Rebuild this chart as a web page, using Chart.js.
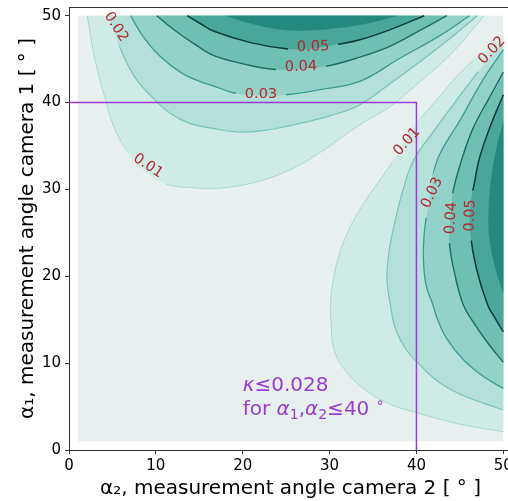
<!DOCTYPE html>
<html>
<head>
<meta charset="utf-8">
<script src="https://cdn.jsdelivr.net/npm/chart.js@4.4.1/dist/chart.umd.min.js"></script>
<style>
  html, body { margin: 0; padding: 0; overflow: hidden; background: #fff; }
  canvas { display: block; }
</style>
</head>
<body>
<canvas id="canvas-contour" width="520" height="501" style="width:520px;height:501px"></canvas>
<script>
// kappa contour levels (filled bands start at each level)
const levels = [0.01, 0.02, 0.03, 0.04, 0.05, 0.06];

// contours of the top lobe, [alpha2, alpha1] in degrees.
// kappa is symmetric in alpha1/alpha2, so the right lobe is the same curve mirrored.
const top001 = [[2.1,50],[3.0,44.9],[4.3,40.0],[5.3,36.9],[7.0,34.0],[9.3,31.7],[11.6,30.5],[14.3,30.2],[16.7,30.1],[20.5,30.6],[24.4,31.8],[28.2,33.8],[33.4,37.4],[36.9,39.5],[40.4,42.4],[43.9,45.5],[47.8,50]];
const top002 = [[4.6,50],[5.4,47.7],[6.3,45.3],[7.8,42.6],[9.6,40.6],[11.6,38.8],[13.9,37.6],[16.7,37.0],[19.8,36.6],[23.2,36.9],[26.6,37.6],[30.1,38.5],[33.4,39.7],[37.0,42.2],[40.4,44.7],[43.9,47.4],[47.0,50]];
const top003 = [[7.1,50],[8.4,47.8],[10.3,45.5],[12.8,43.5],[15.1,42.4],[16.7,41.9],[19.0,41.1],[22.0,40.8],[25.0,40.9],[28.9,41.5],[33.4,42.4],[38.1,45.1],[42.7,47.7],[46.1,50]];
const top004 = [[10.1,50],[12.2,48.3],[14.5,46.7],[16.7,45.4],[20.3,44.4],[23.8,43.8],[26.7,43.9],[29.7,44.2],[33.4,45.2],[37.0,46.5],[40.4,48.3],[43.5,50]];
const top005 = [[13.6,50],[15.1,49.1],[16.7,48.2],[20.9,46.9],[25.0,46.2],[28.0,46.2],[30.9,46.7],[33.4,47.2],[37.0,48.4],[40.9,50]];
const top006 = [[18.0,50],[20.9,49.1],[24.3,48.4],[27.8,48.3],[31.2,48.6],[34.7,49.2],[37.9,50]];
const gridExtent = [[1,1],[50,1],[50,50],[1,50]];

// axis ticks
const tickValues = [0, 10, 20, 30, 40, 50];

// inline contour labels
const labelText = ['0.02', '0.05', '0.04', '0.03', '0.01', '0.02', '0.01', '0.03', '0.04', '0.05'];
const labelX    = [5.4, 28.1, 26.7, 22.1, 9.1, 48.7, 38.9, 41.8, 44.0, 46.2];
const labelY    = [48.7, 46.4, 44.1, 41.0, 32.7, 46.0, 35.5, 29.6, 26.7, 27.0];
const labelRot  = [58, -2, -2, 0, 33, -47, -48, -65, -86, -88];

// the 40 degree limit box
const limitBox = [[0,40],[40,40],[40,0]];

const bandColors = ['#d0eae6', '#b3e0d9', '#92d2c8', '#6fbfb3', '#4aa699', '#26897d'];
const lineColors = ['#a3d9d0', '#74c6b9', '#3b9b8e', '#1d6d63', '#0b3b35', null];
const lineWidths = [1, 1.2, 1.3, 1.4, 1.5, 0];
const purple = '#9a3ccf';

const mirror = pts => pts.map(p => [p[1], p[0]]);
const toXY = pts => pts.map(p => ({x: p[0], y: p[1]}));
const topLobes = [top001, top002, top003, top004, top005, top006];

const datasets = [];
datasets.push({data: toXY(limitBox), borderColor: purple, borderWidth: 1.5, fill: false, tension: 0, order: 0});
levels.forEach((lv, k) => {
  [topLobes[k], mirror(topLobes[k])].forEach(pts => {
    datasets.push({
      label: 'kappa >= ' + lv,
      data: toXY(pts),
      fill: 'shape',
      tension: 0.4,
      backgroundColor: bandColors[k],
      borderColor: lineColors[k] || 'rgba(0,0,0,0)',
      borderWidth: lineWidths[k],
      order: 10 - k,
      contourLine: true
    });
  });
});
datasets.push({data: toXY(gridExtent), fill: 'shape', tension: 0, backgroundColor: '#e7f0ee', borderWidth: 0, order: 20});

function labelBoxes(chart, ctx) {
  const xs = chart.scales.x, ys = chart.scales.y;
  labelText.forEach((t, i) => {
    const cx = xs.getPixelForValue(labelX[i]), cy = ys.getPixelForValue(labelY[i]);
    const r = labelRot[i] * Math.PI / 180, c = Math.cos(r), s = Math.sin(r);
    const hw = 25, hh = 7;
    const pts = [[-hw,-hh],[hw,-hh],[hw,hh],[-hw,hh]].map(([u, v]) => [cx + u*c - v*s, cy + u*s + v*c]);
    ctx.moveTo(pts[0][0], pts[0][1]);
    pts.slice(1).forEach(p => ctx.lineTo(p[0], p[1]));
    ctx.closePath();
  });
}

function richText(ctx, x, y, parts, size) {
  parts.forEach(p => {
    const fs = (p.sub || p.sup) ? size * 0.7 : size;
    ctx.font = (p.it ? 'italic ' : '') + fs + 'px "DejaVu Sans"';
    const dy = p.sub ? size * 0.22 : (p.sup ? -size * 0.4 : 0);
    ctx.fillText(p.t, x, y + dy);
    x += ctx.measureText(p.t).width;
  });
}

const contourExtras = {
  id: 'contourExtras',
  beforeDatasetDraw(chart, args) {
    if (!chart.data.datasets[args.index].contourLine) return;
    const ctx = chart.ctx;
    ctx.save();
    ctx.beginPath();
    ctx.rect(0, 0, chart.width, chart.height);
    labelBoxes(chart, ctx);
    ctx.clip('evenodd');
  },
  afterDatasetDraw(chart, args) {
    if (chart.data.datasets[args.index].contourLine) chart.ctx.restore();
  },
  afterDatasetsDraw(chart) {
    const ctx = chart.ctx, xs = chart.scales.x, ys = chart.scales.y, a = chart.chartArea;
    ctx.save();
    ctx.fillStyle = '#b5282e';
    ctx.font = '14.5px "DejaVu Sans"';
    ctx.textAlign = 'center';
    ctx.textBaseline = 'middle';
    labelText.forEach((t, i) => {
      ctx.save();
      ctx.translate(xs.getPixelForValue(labelX[i]), ys.getPixelForValue(labelY[i]));
      ctx.rotate(labelRot[i] * Math.PI / 180);
      ctx.fillText(t, 0, 0);
      ctx.restore();
    });
    // annotation
    ctx.fillStyle = purple;
    ctx.textAlign = 'left';
    ctx.textBaseline = 'alphabetic';
    const ax = xs.getPixelForValue(20), ay = ys.getPixelForValue(6.8);
    richText(ctx, ax, ay, [{t: 'κ', it: true}, {t: '≤0.028'}], 20);
    richText(ctx, ax, ay + 24, [{t: 'for '}, {t: 'α', it: true}, {t: '1', sub: true}, {t: ','},
      {t: 'α', it: true}, {t: '2', sub: true}, {t: '≤40 '}, {t: '∘', sup: true}], 20);
    // top spine
    ctx.strokeStyle = '#333';
    ctx.lineWidth = 1;
    ctx.beginPath();
    ctx.moveTo(a.left, a.top + 0.5);
    ctx.lineTo(a.right, a.top + 0.5);
    ctx.stroke();
    ctx.restore();
  }
};

const fixedTicks = s => { s.ticks = tickValues.map(v => ({value: v})); };

const canvas = document.getElementById('canvas-contour');
const ctx = canvas.getContext('2d');
new Chart(ctx, {
  type: 'line',
  data: {datasets: datasets},
  options: {
    responsive: false,
    animation: false,
    devicePixelRatio: 1,
    layout: {padding: {top: 7, right: 8, left: 0, bottom: 0}},
    elements: {point: {radius: 0, hoverRadius: 0}},
    plugins: {legend: {display: false}, tooltip: {enabled: false}},
    events: [],
    scales: {
      x: {
        type: 'linear', min: 0, max: 51, bounds: 'data',
        afterBuildTicks: fixedTicks,
        afterFit: s => { s.height = 51; s.paddingLeft = 0; s.paddingRight = 0; },
        ticks: {padding: 3, color: '#000', font: {family: 'DejaVu Sans', size: 15}},
        grid: {drawOnChartArea: false, drawTicks: true, tickLength: 4, color: '#333'},
        border: {display: true, color: '#333', width: 1},
        title: {display: true, text: 'α₂, measurement angle camera 2 [ ° ]', color: '#000',
                font: {family: 'DejaVu Sans', size: 20, lineHeight: 1.2}, padding: {top: 0, bottom: 0}}
      },
      y: {
        type: 'linear', min: 0, max: 51, bounds: 'data',
        afterBuildTicks: fixedTicks,
        afterFit: s => { s.width = 69; s.paddingTop = 0; s.paddingBottom = 0; },
        ticks: {padding: 4, color: '#000', font: {family: 'DejaVu Sans', size: 15}},
        grid: {drawOnChartArea: false, drawTicks: true, tickLength: 4, color: '#333'},
        border: {display: true, color: '#333', width: 1},
        title: {display: true, text: 'α₁, measurement angle camera 1 [ ° ]', color: '#000',
                font: {family: 'DejaVu Sans', size: 20, lineHeight: 1.2}, padding: {top: 16, bottom: 0}}
      }
    }
  },
  plugins: [contourExtras]
});
</script>
</body>
</html>
